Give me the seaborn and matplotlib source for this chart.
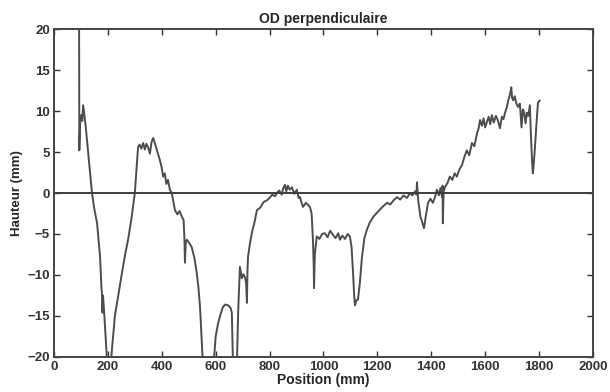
import matplotlib
matplotlib.use('Agg')
import matplotlib.pyplot as plt
import seaborn as sns
import pandas as pd

# profile, 10 points per row (mm)
position = [93, 94, 97, 101, 105, 108, 112, 118, 128, 141,
            150, 160, 171, 176, 178, 180, 182, 187, 197, 203,
            208, 214, 226, 240, 252, 264, 275, 288, 300, 312,
            318, 324, 331, 337, 343, 350, 356, 362, 368, 375,
            384, 393, 399, 405, 411, 417, 423, 430, 437, 449,
            458, 466, 475, 481, 484, 486, 489, 493, 502, 511,
            521, 530, 536, 542, 552, 560, 575, 590, 600, 609,
            618, 627, 636, 646, 655, 660, 664, 672, 679, 684,
            690, 694, 697, 703, 709, 713, 716, 718, 720, 727,
            734, 744, 753, 765, 778, 790, 800, 810, 820, 827,
            836, 845, 851, 857, 862, 868, 875, 883, 892, 901,
            908, 913, 918, 924, 935, 950, 956, 961, 964, 965,
            968, 975, 985, 995, 1005, 1015, 1025, 1035, 1045, 1055,
            1061, 1070, 1080, 1090, 1098, 1104, 1110, 1114, 1117, 1122,
            1128, 1135, 1143, 1152, 1161, 1172, 1185, 1199, 1210, 1222,
            1236, 1248, 1260, 1273, 1285, 1297, 1310, 1321, 1330, 1340,
            1345, 1347, 1352, 1360, 1365, 1373, 1380, 1388, 1397, 1406,
            1414, 1421, 1428, 1434, 1440, 1442, 1443, 1446, 1452, 1460,
            1469, 1478, 1487, 1495, 1505, 1514, 1523, 1532, 1541, 1551,
            1560, 1570, 1576, 1581, 1588, 1594, 1600, 1607, 1613, 1619,
            1625, 1632, 1640, 1647, 1655, 1662, 1668, 1674, 1680, 1686,
            1692, 1697, 1700, 1704, 1710, 1716, 1722, 1729, 1735, 1740,
            1745, 1750, 1755, 1760, 1766, 1770, 1774, 1777, 1781, 1785,
            1790, 1796, 1803]
height = [25, 5.2, 8.5, 9.5, 8.8, 10.7, 9.8, 8.0, 4.5, 0.0,
          -2.0, -3.7, -7.8, -11.5, -12.2, -14.6, -12.5, -15.0, -20.5, -22,
          -22, -19.5, -15.0, -12.2, -9.8, -7.5, -5.7, -3.0, 0.0, 5.6,
          5.9, 5.4, 6.1, 5.3, 6.0, 5.5, 4.8, 6.2, 6.7, 6.0,
          5.0, 4.0, 3.2, 2.0, 2.4, 1.1, 1.6, 0.4, 0.0, -2.1,
          -2.6, -2.2, -2.9, -3.3, -5.5, -8.5, -6.0, -5.7, -6.1, -6.6,
          -7.9, -9.8, -11.5, -13.9, -20.5, -22, -22, -22, -17.5, -15.9,
          -14.8, -13.9, -13.6, -13.7, -14.0, -14.6, -20.5, -22, -20.5, -14.0,
          -9.0, -9.8, -10.4, -9.9, -10.3, -11.0, -13.4, -9.5, -7.8, -6.2,
          -4.9, -3.6, -2.1, -1.8, -1.1, -0.9, -0.6, -0.2, -0.4, 0.0,
          0.3, -0.2, 0.6, 1.0, 0.2, 0.9, 0.4, 0.7, -0.1, 0.4,
          -0.6, -0.5, -1.1, -1.7, -1.2, -1.7, -2.5, -5.7, -9.0, -11.6,
          -7.5, -5.3, -5.6, -5.0, -4.9, -5.4, -4.6, -5.1, -5.5, -4.9,
          -5.7, -5.2, -5.6, -5.0, -5.3, -6.5, -9.8, -12.5, -13.7, -13.1,
          -13.0, -11.0, -7.8, -5.5, -4.5, -3.6, -2.9, -2.4, -2.0, -1.6,
          -1.2, -1.4, -0.9, -0.5, -0.8, -0.3, -0.6, 0.0, -0.3, 0.2,
          -0.2, 1.3, -1.0, -2.9, -3.4, -4.3, -2.8, -1.2, -0.7, -1.2,
          -0.5, 0.4, -0.3, 0.6, -0.5, 0.9, -3.7, 0.2, 0.8, 1.2,
          2.0, 1.6, 2.4, 2.0, 2.9, 3.4, 4.4, 5.2, 4.6, 6.1,
          5.7, 7.3, 7.9, 8.9, 8.2, 9.1, 8.0, 8.7, 9.3, 8.4,
          9.5, 8.6, 9.4, 8.9, 7.9, 9.3, 9.0, 9.8, 10.4, 11.3,
          12.0, 12.9, 11.6, 11.3, 11.8, 10.9, 10.5, 10.9, 8.0, 10.2,
          9.8, 8.5, 9.8, 9.4, 10.7, 7.0, 4.0, 2.4, 3.8, 5.6,
          8.2, 11.0, 11.3]

x_ticks = [0, 200, 400, 600, 800, 1000, 1200, 1400, 1600, 1800, 2000]
y_ticks = [-20, -15, -10, -5, 0, 5, 10, 15, 20]

df = pd.DataFrame({'Position': position, 'Hauteur': height})

sns.set_style('ticks')
plt.rcParams['font.family'] = ['Liberation Sans', 'DejaVu Sans']

fig = plt.figure(figsize=(6.1, 3.92), dpi=100)
ax = fig.add_axes([0.0885, 0.0893, 0.8835, 0.8367])

sns.lineplot(data=df, x='Position', y='Hauteur', ax=ax, sort=False, estimator=None,
             color='#4d4d4d', linewidth=1.4)
ax.axhline(0, color='#3d3d3d', linewidth=1.4)

ax.set_xlim(0, 2000)
ax.set_ylim(-20, 20)
ax.set_xticks(x_ticks)
ax.set_yticks(y_ticks)
ax.tick_params(direction='in', top=True, right=True, length=4, width=1,
               labelsize=9.5, colors='#333333', pad=3)
for lbl in ax.get_xticklabels() + ax.get_yticklabels():
    lbl.set_fontweight('bold')
for sp in ax.spines.values():
    sp.set_linewidth(1.4)
    sp.set_color('#444444')

ax.set_title('OD perpendiculaire', fontsize=10, fontweight='bold', pad=4)
ax.set_xlabel('Position (mm)', fontsize=10, fontweight='bold', labelpad=0)
ax.set_ylabel('Hauteur (mm)', fontsize=9.5, fontweight='bold', labelpad=3)

fig.savefig('out.png', dpi=100)
